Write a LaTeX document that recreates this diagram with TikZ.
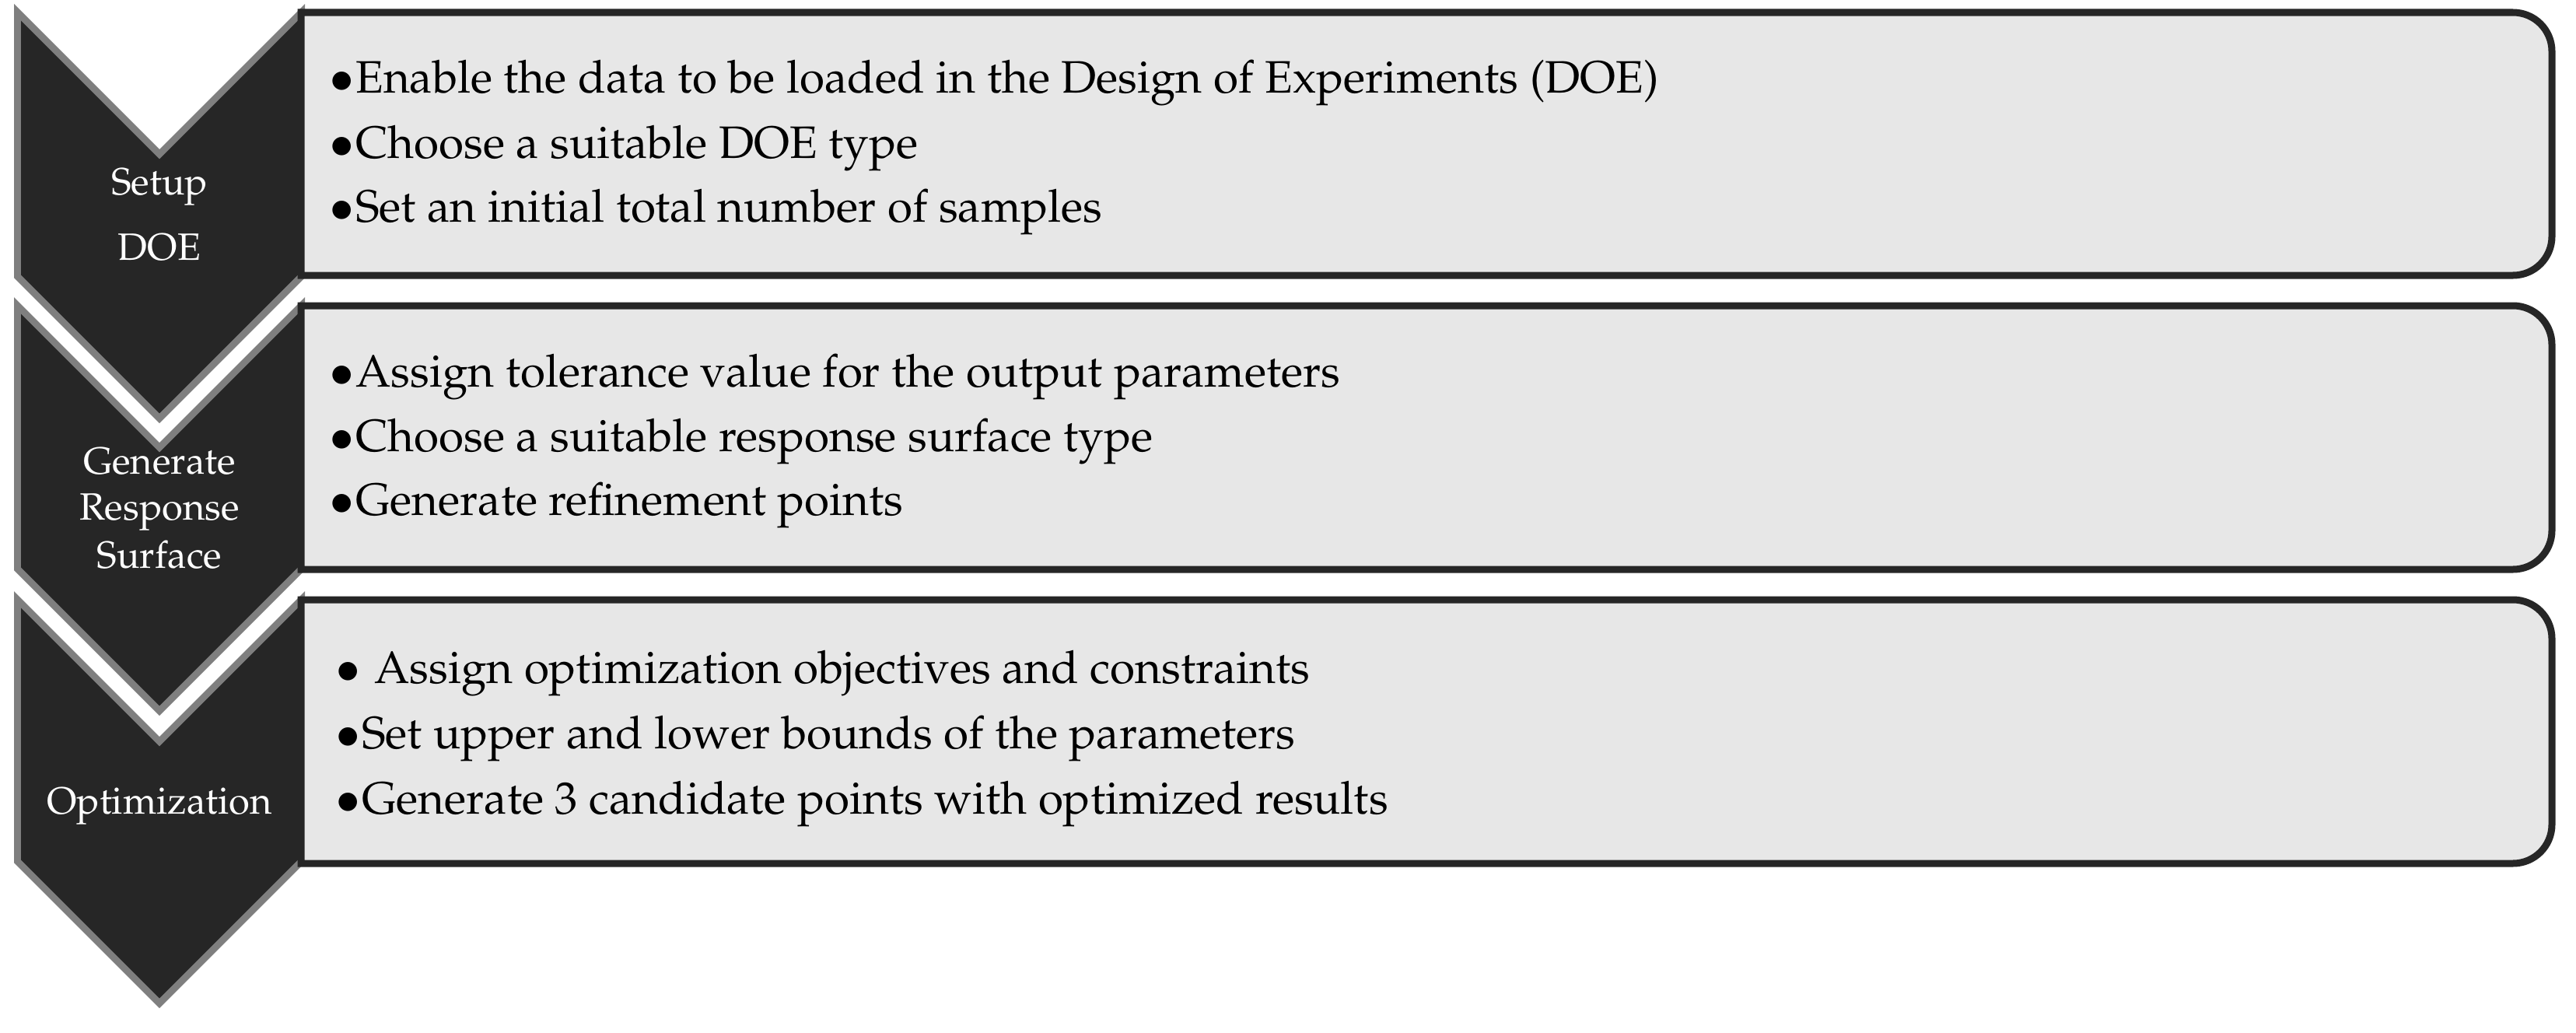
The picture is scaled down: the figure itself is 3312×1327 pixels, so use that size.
\documentclass[tikz,border=0pt]{standalone}
\usepackage[T1]{fontenc}
\usepackage{mathpazo}

\definecolor{chevdark}{HTML}{262626}
\definecolor{chevgrey}{HTML}{7F7F7F}
\definecolor{boxgrey}{HTML}{E7E7E7}

\begin{document}
\begin{tikzpicture}[x=0.01cm, y=-0.01cm,
    stepedge/.style={fill=chevgrey},
    stepfill/.style={fill=chevdark},
    listbox/.style={draw=chevdark, fill=boxgrey, line width=0.09cm},
    steplabel/.style={text=white, anchor=base, inner sep=0pt, font=\fontsize{13.9pt}{16pt}\selectfont},
    itemtext/.style={anchor=base west, inner sep=0pt, font=\fontsize{16.6pt}{19pt}\selectfont}]

    \useasboundingbox (0,0) rectangle (3312,1327);

    % Chevrons (grey edge, dark body)
    \fill[stepedge] (18,5) -- (205,192) -- (392,5) -- (392,357) -- (205,544) -- (18,357) -- cycle;
    \fill[stepfill] (27,26.7) -- (205,204.7) -- (383,26.7) -- (383,353.3) -- (205,531.3) -- (27,353.3) -- cycle;

    \fill[stepedge] (18,382) -- (205,569) -- (392,382) -- (392,733) -- (205,920) -- (18,733) -- cycle;
    \fill[stepfill] (27,403.7) -- (205,581.7) -- (383,403.7) -- (383,729.3) -- (205,907.3) -- (27,729.3) -- cycle;

    \fill[stepedge] (18,760) -- (205,947) -- (392,760) -- (392,1109) -- (205,1296) -- (18,1109) -- cycle;
    \fill[stepfill] (27,781.7) -- (205,959.7) -- (383,781.7) -- (383,1105.3) -- (205,1283.3) -- (27,1105.3) -- cycle;

    % Boxes
    \draw[listbox] (387,16) -- (3000,16) [rounded corners=0.5cm] -- (3281,16) -- (3281,354) -- (3000,354) [sharp corners] -- (387,354) -- cycle;
    \draw[listbox] (387,393) -- (3000,393) [rounded corners=0.5cm] -- (3281,393) -- (3281,732) -- (3000,732) [sharp corners] -- (387,732) -- cycle;
    \draw[listbox] (387,771) -- (3000,771) [rounded corners=0.5cm] -- (3281,771) -- (3281,1110) -- (3000,1110) [sharp corners] -- (387,1110) -- cycle;

    % Step labels
    \node[steplabel] (setup) at (205,250) {Setup};
    \node[steplabel] (doe) at (205,334) {DOE};
    \node[steplabel] (generate) at (205,609) {Generate};
    \node[steplabel] (response) at (205,668) {Response};
    \node[steplabel] (surface) at (205,730) {Surface};
    \node[steplabel] (optim) at (205,1046) {Optimization};

    % Setup DOE items
    \node[itemtext] (doeA) at (423,120) {$\bullet$\kern0.5pt Enable the data to be loaded in the Design of Experiments (DOE)};
    \node[itemtext] (doeB) at (423,203) {$\bullet$\kern0.5pt Choose a suitable DOE type};
    \node[itemtext] (doeC) at (423,285) {$\bullet$\kern0.5pt Set an initial total number of samples};

    % Response surface items
    \node[itemtext] (rsA) at (423,497) {$\bullet$\kern0.5pt Assign tolerance value for the output parameters};
    \node[itemtext] (rsB) at (423,580) {$\bullet$\kern0.5pt Choose a suitable response surface type};
    \node[itemtext] (rsC) at (423,662) {$\bullet$\kern0.5pt Generate refinement points};

    % Optimization items
    \node[itemtext] (optA) at (431,878) {$\bullet$\kern5pt Assign optimization objectives and constraints};
    \node[itemtext] (optB) at (431,962) {$\bullet$\kern0.5pt Set upper and lower bounds of the parameters};
    \node[itemtext] (optC) at (431,1046) {$\bullet$\kern0.5pt Generate 3 candidate points with optimized results};
\end{tikzpicture}
\end{document}
